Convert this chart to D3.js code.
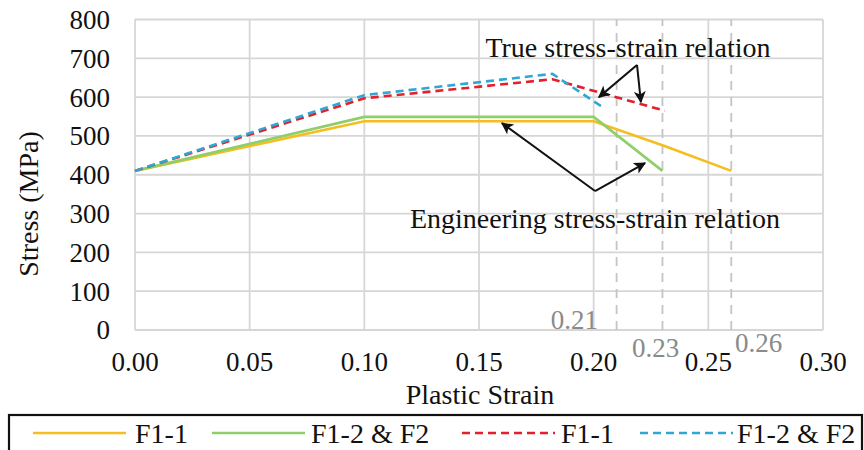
<!DOCTYPE html>
<html>
<head>
<meta charset="utf-8">
<script src="https://cdn.jsdelivr.net/npm/d3@7/dist/d3.min.js"></script>
<style>
  html, body { margin: 0; padding: 0; background: #fff; }
  svg { display: block; }
</style>
</head>
<body>
<svg id="chart" width="864" height="450"></svg>
<script>
// Stress–strain data (strain, stress in MPa)
const engF11 = [[0, 410], [0.10, 538], [0.20, 538], [0.23, 476], [0.26, 410]];
const engF12 = [[0, 410], [0.10, 549], [0.20, 549], [0.23, 410]];
const trueF11 = [[0, 410], [0.10, 597], [0.182, 646], [0.231, 565]];
const trueF12 = [[0, 410], [0.10, 605], [0.182, 660], [0.205, 570]];

const xTicks = [0, 0.05, 0.10, 0.15, 0.20, 0.25, 0.30];
const yTicks = [0, 100, 200, 300, 400, 500, 600, 700, 800];
const failureStrains = [0.21, 0.23, 0.26];

const legendItems = [
  { label: "F1-1", color: "#f5be1e", dash: null },
  { label: "F1-2 & F2", color: "#8fcf6a", dash: null },
  { label: "F1-1", color: "#e3202c", dash: "8,5" },
  { label: "F1-2 & F2", color: "#2ea7d4", dash: "8,5" }
];

const FONT = "Liberation Serif";
const svg = d3.select("#chart");
const x = d3.scaleLinear().domain([0, 0.30]).range([135, 823]);
const y = d3.scaleLinear().domain([0, 800]).range([330, 19.5]);

// gridlines
const grid = svg.append("g").attr("stroke", "#d6d6d6").attr("stroke-width", 1.8);
grid.selectAll("line.h").data(yTicks).join("line")
  .attr("x1", x(0)).attr("x2", x(0.30))
  .attr("y1", d => y(d)).attr("y2", d => y(d));
grid.selectAll("line.v").data(xTicks).join("line")
  .attr("y1", y(0)).attr("y2", y(800))
  .attr("x1", d => x(d)).attr("x2", d => x(d));

// failure strain markers
svg.append("g").selectAll("line").data(failureStrains).join("line")
  .attr("x1", d => x(d)).attr("x2", d => x(d))
  .attr("y1", y(0)).attr("y2", y(800))
  .attr("stroke", "#c4c4c4").attr("stroke-width", 1.8)
  .attr("stroke-dasharray", "9,7");

// axis tick labels
const fmt = d3.format(".2f");
svg.append("g").selectAll("text").data(xTicks).join("text")
  .attr("x", d => x(d)).attr("y", 371)
  .attr("text-anchor", "middle").attr("font-size", 27).attr("fill", "#111")
  .attr("font-family", FONT)
  .text(d => fmt(d));
svg.append("g").selectAll("text").data(yTicks).join("text")
  .attr("x", 110).attr("y", d => y(d)).attr("dy", "0.35em")
  .attr("text-anchor", "end").attr("font-size", 27).attr("fill", "#111")
  .attr("font-family", FONT)
  .text(d => d);

// failure strain labels
const failLabels = [
  { v: 0.21, ax: 598, ay: 329, anchor: "end" },
  { v: 0.23, ax: 632, ay: 357, anchor: "start" },
  { v: 0.26, ax: 735, ay: 352, anchor: "start" }
];
svg.append("g").selectAll("text").data(failLabels).join("text")
  .attr("x", d => d.ax).attr("y", d => d.ay)
  .attr("text-anchor", d => d.anchor).attr("font-size", 27).attr("fill", "#8a8a8a")
  .attr("font-family", FONT)
  .text(d => fmt(d.v));

// axis titles
svg.append("text").attr("x", 480).attr("y", 404).attr("text-anchor", "middle")
  .attr("font-family", FONT)
  .attr("font-size", 28).attr("fill", "#111").text("Plastic Strain");
svg.append("text").attr("transform", "translate(38,204) rotate(-90)")
  .attr("font-family", FONT)
  .attr("text-anchor", "middle").attr("font-size", 28).attr("fill", "#111").text("Stress (MPa)");

// series
const line = d3.line().x(d => x(d[0])).y(d => y(d[1]));
const series = [
  { data: engF11, item: legendItems[0] },
  { data: engF12, item: legendItems[1] },
  { data: trueF11, item: legendItems[2] },
  { data: trueF12, item: legendItems[3] }
];
svg.append("g").selectAll("path").data(series).join("path")
  .attr("d", d => line(d.data))
  .attr("fill", "none")
  .attr("stroke", d => d.item.color)
  .attr("stroke-width", 2.6)
  .attr("stroke-dasharray", d => d.item.dash);

// annotations with arrows
svg.append("defs").append("marker")
  .attr("id", "arrow").attr("viewBox", "0 0 10 10")
  .attr("refX", 9).attr("refY", 5)
  .attr("markerWidth", 6).attr("markerHeight", 6)
  .attr("markerUnits", "strokeWidth")
  .attr("orient", "auto")
  .append("path").attr("d", "M0,0 L10,5 L0,10 L2.5,5 Z").attr("fill", "#111");

const annotations = [
  { text: "True stress-strain relation", tx: 628, ty: 57,
    from: [0.2189, 683], to: [[0.2023, 600], [0.2206, 587]] },
  { text: "Engineering stress-strain relation", tx: 595, ty: 228,
    from: [0.2006, 358], to: [[0.160, 533], [0.2224, 430]] }
];
annotations.forEach(a => {
  svg.append("text").attr("x", a.tx).attr("y", a.ty).attr("text-anchor", "middle")
    .attr("font-family", FONT)
    .attr("font-size", 28).attr("fill", "#111").text(a.text);
  a.to.forEach(t => {
    svg.append("line")
      .attr("x1", x(a.from[0])).attr("y1", y(a.from[1]))
      .attr("x2", x(t[0])).attr("y2", y(t[1]))
      .attr("stroke", "#111").attr("stroke-width", 2)
      .attr("marker-end", "url(#arrow)");
  });
});

// legend
svg.append("rect").attr("x", 9).attr("y", 415).attr("width", 853).attr("height", 40)
  .attr("fill", "#fff").attr("stroke", "#111").attr("stroke-width", 2.2);
const legendPos = [
  { lx: 33, tx: 135 },
  { lx: 212, tx: 311 },
  { lx: 462, tx: 561 },
  { lx: 640, tx: 737 }
];
const lg = svg.append("g").selectAll("g").data(legendItems).join("g");
lg.append("line")
  .attr("x1", (d, i) => legendPos[i].lx).attr("x2", (d, i) => legendPos[i].lx + 93)
  .attr("y1", 433).attr("y2", 433)
  .attr("stroke", d => d.color).attr("stroke-width", 2.6)
  .attr("stroke-dasharray", d => d.dash);
lg.append("text")
  .attr("x", (d, i) => legendPos[i].tx).attr("y", 443)
  .attr("font-family", FONT)
  .attr("font-size", 28).attr("fill", "#111")
  .text(d => d.label);
</script>
</body>
</html>
